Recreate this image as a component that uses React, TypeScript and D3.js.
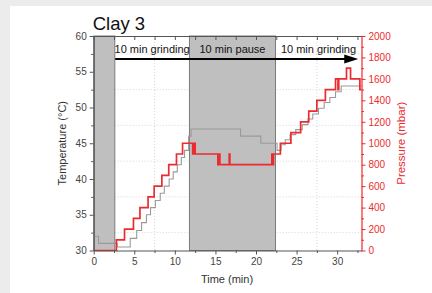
import React, { useEffect, useRef } from "react";
import * as d3 from "d3";

// temperature (grey staircase), step-after points
const tempTime = [0, 0.6, 2.9, 4.5, 5.3, 5.9, 6.5, 7.0, 7.6, 8.2, 8.7, 9.3, 9.8, 10.3, 10.8, 11.2, 11.7, 12.0, 18.1, 20.6, 22.6, 23.1, 23.6, 24.2, 24.9, 25.7, 26.4, 27.0, 27.7, 28.4, 29.1, 29.8, 30.5, 33];
const tempValue = [32, 31, 30.5, 31.7, 32.8, 33.9, 35, 36, 37, 38, 39, 40, 41, 42, 43, 44, 46, 47, 46, 45, 44, 44.8, 45.5, 46.2, 46.9, 47.6, 48.4, 49.1, 49.9, 50.7, 51.4, 52.2, 53, 53];

// pressure (red staircase), step-after points
const pressTime = [0, 2.8, 3.8, 4.9, 5.7, 6.7, 7.45, 8.4, 9.25, 10.2, 10.95, 12.2, 12.3, 12.5, 15.3, 15.45, 15.55, 16.7, 16.78, 21.95, 22.05, 22.15, 23.0, 24.3, 25.5, 26.5, 27.5, 28.55, 29.8, 30.1, 30.2, 31.15, 31.65, 32.8, 33];
const pressValue = [0, 100, 200, 300, 400, 500, 600, 700, 800, 900, 1000, 900, 1000, 900, 800, 900, 800, 900, 800, 900, 800, 900, 1000, 1100, 1200, 1300, 1400, 1500, 1600, 1500, 1600, 1700, 1600, 1500, 1500];

// shaded pause bands
const bandStart = [0, 11.8];
const bandEnd = [2.6, 22.4];

// phase labels and their segment bounds
const phaseLabels = ["10 min grinding", "10 min pause", "10 min grinding"];
const phaseStart = [2.6, 11.8, 22.4];
const phaseEnd = [11.8, 22.4, 33];

const timeTicks = [0, 5, 10, 15, 20, 25, 30];
const tempTicks = [30, 35, 40, 45, 50, 55, 60];
const pressTicks = [0, 200, 400, 600, 800, 1000, 1200, 1400, 1600, 1800, 2000];

const FONT = "'Liberation Sans', Arial, sans-serif";
const RED = "#ec2b2f";
const TXT = "#444";

export default function App() {
  const ref = useRef<SVGSVGElement>(null);

  useEffect(() => {
    const svg = d3.select(ref.current);
    svg.selectAll("*").remove();

    const left = 93.7, right = 361.5, top = 36, bottom = 250.5;

    const x = d3.scaleLinear().domain([0, 33]).range([left, right]);
    const y = d3.scaleLinear().domain([30, 60]).range([bottom, top]);
    const yp = d3.scaleLinear().domain([0, 2000]).range([bottom, top]);

    // background
    svg.append("rect").attr("width", 432).attr("height", 293).attr("fill", "#ececec");
    svg.append("rect").attr("x", 10).attr("y", 6).attr("width", 422).attr("height", 287).attr("fill", "#fff");

    svg.append("defs").append("clipPath").attr("id", "plot-clip")
      .append("rect").attr("x", left).attr("y", top - 2).attr("width", right - left).attr("height", bottom - top + 3);

    // faint dotted grid at half steps
    const grid = svg.append("g").attr("stroke", "#d6d6d6").attr("stroke-dasharray", "1,2").attr("stroke-width", 1);
    [7.5, 17.5, 27.5].forEach((t) => {
      grid.append("line").attr("x1", x(t)).attr("x2", x(t)).attr("y1", top).attr("y2", bottom);
    });
    [32.5, 37.5, 42.5, 47.5, 52.5, 57.5].forEach((v) => {
      grid.append("line").attr("x1", left).attr("x2", right).attr("y1", y(v)).attr("y2", y(v));
    });

    // pause bands
    svg.selectAll(".band")
      .data(bandStart)
      .enter()
      .append("rect")
      .attr("class", "band")
      .attr("x", (d) => x(d))
      .attr("y", top)
      .attr("width", (d, i) => x(bandEnd[i]) - x(d))
      .attr("height", bottom - top)
      .attr("fill", "#bfbfbf")
      .attr("stroke", "#7a7a7a")
      .attr("stroke-width", 1);

    // temperature line
    const tempLine = d3.line<number>()
      .x((d, i) => x(tempTime[i]))
      .y((d) => y(d))
      .curve(d3.curveStepAfter);
    svg.append("path")
      .datum(tempValue)
      .attr("clip-path", "url(#plot-clip)")
      .attr("fill", "none")
      .attr("stroke", "#9a9a9a")
      .attr("stroke-width", 1.1)
      .attr("d", tempLine);

    // pressure line
    const pressLine = d3.line<number>()
      .x((d, i) => x(pressTime[i]))
      .y((d) => yp(d))
      .curve(d3.curveStepAfter);
    svg.append("path")
      .datum(pressValue)
      .attr("clip-path", "url(#plot-clip)")
      .attr("fill", "none")
      .attr("stroke", RED)
      .attr("stroke-width", 1.7)
      .attr("d", pressLine);

    // axes
    const styleAxis = (g: any, color: string) => {
      g.selectAll("path").attr("stroke", color).attr("stroke-width", 1.2);
      g.selectAll("line").attr("stroke", color);
      g.selectAll("text").attr("fill", color === "#555" ? TXT : color).style("font-family", FONT).style("font-size", "10px");
    };

    const minorTimes = d3.range(2.5, 33, 5);

    const bottomAxis = svg.append("g").attr("transform", `translate(0,${bottom})`)
      .call(d3.axisBottom(x).tickValues(timeTicks).tickSize(4).tickSizeOuter(0).tickPadding(3));
    styleAxis(bottomAxis, "#555");
    const bottomMinor = svg.append("g").attr("transform", `translate(0,${bottom})`)
      .call(d3.axisBottom(x).tickValues(minorTimes).tickSize(2.5).tickFormat(() => ""));
    bottomMinor.select("path").remove();
    bottomMinor.selectAll("line").attr("stroke", "#555");

    const topAxis = svg.append("g").attr("transform", `translate(0,${top})`)
      .call(d3.axisBottom(x).tickValues(d3.range(0, 33, 2.5)).tickSize(4).tickSizeOuter(0).tickFormat(() => ""));
    styleAxis(topAxis, "#555");

    const leftAxis = svg.append("g").attr("transform", `translate(${left},0)`)
      .call(d3.axisLeft(y).tickValues(tempTicks).tickSize(4).tickSizeOuter(0).tickPadding(3));
    styleAxis(leftAxis, "#555");
    const leftMinor = svg.append("g").attr("transform", `translate(${left},0)`)
      .call(d3.axisLeft(y).tickValues(d3.range(32.5, 60, 5)).tickSize(2.5).tickFormat(() => ""));
    leftMinor.select("path").remove();
    leftMinor.selectAll("line").attr("stroke", "#555");

    const rightAxis = svg.append("g").attr("transform", `translate(${right},0)`)
      .call(d3.axisRight(yp).tickValues(pressTicks).tickSize(4).tickSizeOuter(0).tickPadding(3).tickFormat(d3.format("d")));
    styleAxis(rightAxis, RED);
    const rightMinor = svg.append("g").attr("transform", `translate(${right},0)`)
      .call(d3.axisRight(yp).tickValues(d3.range(100, 2000, 200)).tickSize(2.5).tickFormat(() => ""));
    rightMinor.select("path").remove();
    rightMinor.selectAll("line").attr("stroke", RED);

    // phase arrow
    const arrowY = 59;
    svg.append("line")
      .attr("x1", x(2.65)).attr("x2", x(31.8))
      .attr("y1", arrowY).attr("y2", arrowY)
      .attr("stroke", "#000").attr("stroke-width", 2);
    const tip = x(32.6);
    svg.append("path")
      .attr("d", `M${tip},${arrowY} L${tip - 14},${arrowY - 4.5} L${tip - 14},${arrowY + 4.5} Z`)
      .attr("fill", "#000");

    svg.selectAll(".phase")
      .data(phaseLabels)
      .enter()
      .append("text")
      .attr("class", "phase")
      .attr("x", (d, i) => x((phaseStart[i] + phaseEnd[i]) / 2))
      .attr("y", 53)
      .attr("text-anchor", "middle")
      .style("font-family", FONT)
      .style("font-size", "11px")
      .attr("fill", "#111")
      .text((d) => d);

    // titles
    svg.append("text")
      .attr("x", left - 1).attr("y", 29.5)
      .style("font-family", FONT).style("font-size", "18.5px")
      .attr("fill", "#111")
      .text("Clay 3");

    svg.append("text")
      .attr("transform", `translate(66,${(top + bottom) / 2}) rotate(-90)`)
      .attr("text-anchor", "middle")
      .style("font-family", FONT).style("font-size", "11px")
      .attr("fill", "#333")
      .text("Temperature (°C)");

    svg.append("text")
      .attr("transform", `translate(405,${(top + bottom) / 2}) rotate(-90)`)
      .attr("text-anchor", "middle")
      .style("font-family", FONT).style("font-size", "11.5px")
      .attr("fill", RED)
      .text("Pressure (mbar)");

    svg.append("text")
      .attr("x", 227).attr("y", 283)
      .attr("text-anchor", "middle")
      .style("font-family", FONT).style("font-size", "11px")
      .attr("fill", "#333")
      .text("Time (min)");
  }, []);

  return <svg ref={ref} width={432} height={293} style={{ position: "absolute", left: 0, top: 0 }} />;
}
